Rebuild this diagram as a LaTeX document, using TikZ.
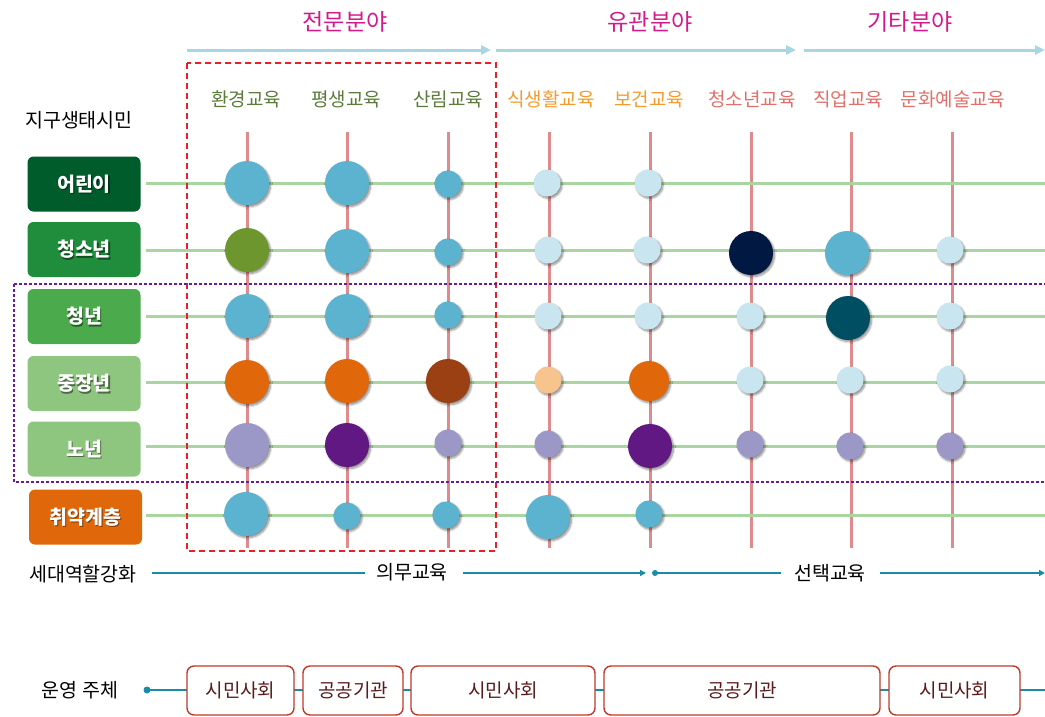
\documentclass[tikz,border=0pt]{standalone}
\usepackage{fontspec}
\setmainfont{Noto Sans CJK KR}
\usetikzlibrary{shadows.blur,arrows.meta}
\definecolor{cBlue}{HTML}{5BB3CF}
\definecolor{cLB}{HTML}{C8E5F0}
\definecolor{cOlive}{HTML}{6E962E}
\definecolor{cNavy}{HTML}{011842}
\definecolor{cTeal}{HTML}{004E62}
\definecolor{cOrg}{HTML}{E0680A}
\definecolor{cBrown}{HTML}{9A4012}
\definecolor{cLOrg}{HTML}{F8C48E}
\definecolor{cLav}{HTML}{9B97C7}
\definecolor{cPur}{HTML}{621882}
\definecolor{vline}{HTML}{DF8B8B}
\definecolor{hline}{HTML}{A9D5A0}
\definecolor{mag}{HTML}{D21A8C}
\definecolor{oliveT}{HTML}{5B7B3B}
\definecolor{orgT}{HTML}{F29B30}
\definecolor{salT}{HTML}{E0706A}
\definecolor{arrowB}{HTML}{A8D7E3}
\definecolor{tealL}{HTML}{1A8CA6}
\definecolor{g1}{HTML}{005C2A}
\definecolor{g2}{HTML}{1F8D3B}
\definecolor{g3}{HTML}{4AAA4C}
\definecolor{g4}{HTML}{8EC67F}
\definecolor{boxR}{HTML}{C0392B}
\definecolor{boxT}{HTML}{5A1A1A}
\definecolor{dashR}{HTML}{E8202A}
\definecolor{dotP}{HTML}{6A1B9A}
\tikzset{
  sh/.style={blur shadow={shadow xshift=1.6pt,shadow yshift=-1.8pt,shadow blur radius=2pt,shadow blur steps=6,shadow opacity=45}},
  dotbase/.style={circle,inner sep=0pt,draw=none,sh},
  dotL/.style={dotbase,minimum size=44pt},
  dotM/.style={dotbase,minimum size=40pt},
  dotS/.style={dotbase,minimum size=27pt},
  vl/.style={draw=vline,line width=3pt},
  hl/.style={draw=hline,line width=3pt},
  rowbox/.style={rounded corners=6pt,minimum width=113pt,minimum height=55pt,inner sep=0pt},
  rowtext/.style={text=white,font=\fontsize{19.5}{22}\selectfont\bfseries,inner sep=0pt},
  rowshadow/.style={text=black,text opacity=0.45,font=\fontsize{19.5}{22}\selectfont\bfseries,inner sep=0pt},
  field/.style={text=mag,font=\fontsize{23}{26}\selectfont},
  collab/.style={font=\fontsize{19}{22}\selectfont},
  plain/.style={font=\fontsize{19.5}{22}\selectfont,text=black},
  toparrow/.style={draw=arrowB,line width=3pt,-{Triangle[length=10pt,width=9pt]}},
  tl/.style={draw=tealL,line width=2.5pt},
  opbox/.style={draw=boxR,line width=1.4pt,fill=white,rounded corners=7pt,minimum height=49pt,inner sep=0pt,text=boxT,font=\fontsize{19}{22}\selectfont},
}
\newcommand\rowlabel[5]{%
  \node[rowbox,fill=#3] (#1) at (#2) {};
  \node[rowshadow] (#1s) at ([xshift=1.3pt,yshift=-1.3pt]#1.center) {#4};
  \node[rowtext] (#1t) at (#1.center) {#4};
}
\begin{document}
\begin{tikzpicture}[x=1pt,y=-1pt]
\useasboundingbox (0,0) rectangle (1045,716);
% top fields
\node[field] (f1) at (345,22) {전문분야};
\node[field] (f2) at (650,22) {유관분야};
\node[field] (f3) at (910,22) {기타분야};
\coordinate (a1s) at (187,50); \coordinate (a1e) at (491,50);
\coordinate (a2s) at (496,50); \coordinate (a2e) at (796,50);
\coordinate (a3s) at (804,50); \coordinate (a3e) at (1045,50);
\draw[toparrow] (a1s) -- (a1e);
\draw[toparrow] (a2s) -- (a2e);
\draw[toparrow] (a3s) -- (a3e);
% column labels
\node[collab,text=oliveT] (l1) at (246,99) {환경교육};
\node[collab,text=oliveT] (l2) at (346,99) {평생교육};
\node[collab,text=oliveT] (l3) at (448,99) {산림교육};
\node[collab,text=orgT] (l4) at (551,99) {식생활교육};
\node[collab,text=orgT] (l5) at (649,99) {보건교육};
\node[collab,text=salT] (l6) at (752,99) {청소년교육};
\node[collab,text=salT] (l7) at (848,99) {직업교육};
\node[collab,text=salT] (l8) at (953,99) {문화예술교육};
\node[plain] (eco) at (79,120) {지구생태시민};
% vertical lines
\foreach \i/\x in {1/247,2/347,3/448,4/549,5/650,6/751,7/851,8/952}{
  \coordinate (vt\i) at (\x,132);
  \coordinate (vb\i) at (\x,548);
  \draw[vl] (vt\i) -- (vb\i);
}
% horizontal lines
\foreach \j/\y in {1/183,2/250,3/316,4/382,5/446,6/515}{
  \coordinate (hs\j) at (146,\y);
  \coordinate (he\j) at (1045,\y);
  \draw[hl] (hs\j) -- (he\j);
}
% dashed and dotted frames
\draw[dashR,line width=1.5pt,dash pattern=on 6pt off 4pt] (187,63) rectangle (496,551);
\draw[dotP,line width=2.5pt,dash pattern=on 2.5pt off 2.5pt] (14,284) -- (1045,284);
\draw[dotP,line width=2.5pt,dash pattern=on 2.5pt off 2.5pt] (14,284) -- (14,482) -- (1045,482);
% row labels
\rowlabel{r1}{84,184}{g1}{어린이}{}
\rowlabel{r2}{84,249.5}{g2}{청소년}{}
\rowlabel{r3}{84,316.5}{g3}{청년}{}
\rowlabel{r4}{84,383.5}{g4}{중장년}{}
\rowlabel{r5}{84,449}{g4}{노년}{}
\rowlabel{r6}{85.5,517}{cOrg}{취약계층}{}
% circles row 1
\node[dotL,fill=cBlue] (n11) at (247,183) {};
\node[dotL,fill=cBlue] (n12) at (347,183) {};
\node[dotS,fill=cBlue] (n13) at (448,184) {};
\node[dotS,fill=cLB] (n14) at (547,183) {};
\node[dotS,fill=cLB] (n15) at (648,183) {};
% row 2
\node[dotL,fill=cOlive] (n21) at (247,250) {};
\node[dotL,fill=cBlue] (n22) at (347,251) {};
\node[dotS,fill=cBlue] (n23) at (448,252) {};
\node[dotS,fill=cLB] (n24) at (548,250) {};
\node[dotS,fill=cLB] (n25) at (647,250) {};
\node[dotL,fill=cNavy] (n26) at (751,253) {};
\node[dotL,fill=cBlue] (n27) at (847,253) {};
\node[dotS,fill=cLB] (n28) at (950,250) {};
% row 3
\node[dotL,fill=cBlue] (n31) at (247,316) {};
\node[dotL,fill=cBlue] (n32) at (347,316) {};
\node[dotS,fill=cBlue] (n33) at (448,315) {};
\node[dotS,fill=cLB] (n34) at (548,316) {};
\node[dotS,fill=cLB] (n35) at (648,316) {};
\node[dotS,fill=cLB] (n36) at (750,316) {};
\node[dotL,fill=cTeal] (n37) at (848,318) {};
\node[dotS,fill=cLB] (n38) at (950,316) {};
% row 4
\node[dotL,fill=cOrg] (n41) at (247,382) {};
\node[dotL,fill=cOrg] (n42) at (347,381) {};
\node[dotL,fill=cBrown] (n43) at (448,381) {};
\node[dotS,fill=cLOrg] (n44) at (548,380) {};
\node[dotM,fill=cOrg] (n45) at (649,381) {};
\node[dotS,fill=cLB] (n46) at (750,380) {};
\node[dotS,fill=cLB] (n47) at (850,380) {};
\node[dotS,fill=cLB] (n48) at (950,379) {};
% row 5
\node[dotL,fill=cLav] (n51) at (247,445) {};
\node[dotL,fill=cPur] (n52) at (347,445) {};
\node[dotS,fill=cLav] (n53) at (448,443) {};
\node[dotS,fill=cLav] (n54) at (548,444) {};
\node[dotL,fill=cPur] (n55) at (650,446) {};
\node[dotS,fill=cLav] (n56) at (750,444) {};
\node[dotS,fill=cLav] (n57) at (850,446) {};
\node[dotS,fill=cLav] (n58) at (950,446) {};
% row 6
\node[dotL,fill=cBlue] (n61) at (246,514) {};
\node[dotS,fill=cBlue] (n62) at (347,516) {};
\node[dotS,fill=cBlue] (n63) at (446,515) {};
\node[dotL,fill=cBlue] (n64) at (548,517) {};
\node[dotS,fill=cBlue] (n65) at (649,514) {};
% generation line
\node[plain] (gen) at (83,574) {세대역할강화};
\node[plain] (obl) at (412,572) {의무교육};
\node[plain] (sel) at (830,573) {선택교육};
\coordinate (g0) at (152,573); \coordinate (g1e) at (365,573);
\coordinate (g2s) at (463,573); \coordinate (g2e) at (646,573);
\coordinate (g3s) at (655,573); \coordinate (g3e) at (781,573);
\coordinate (g4s) at (880,573); \coordinate (g4e) at (1045,573);
\draw[tl] (g0) -- (g1e);
\draw[tl,-{Triangle[length=6pt,width=6pt]}] (g2s) -- (g2e);
\fill[tealL] (g3s) circle (3pt);
\draw[tl] (g3s) -- (g3e);
\draw[tl,-{Triangle[length=6pt,width=6pt]}] (g4s) -- (g4e);
% operator line
\node[plain] (op) at (80,690) {운영 주체};
\coordinate (o0) at (147,690); \coordinate (o1) at (1045,690);
\draw[tl] (o0) -- (o1);
\fill[tealL] (o0) circle (3.5pt);
\node[opbox,minimum width=107pt] (b1) at (240.5,690.5) {시민사회};
\node[opbox,minimum width=100pt] (b2) at (353,690.5) {공공기관};
\node[opbox,minimum width=184pt] (b3) at (503,690.5) {시민사회};
\node[opbox,minimum width=276pt] (b4) at (742,690.5) {공공기관};
\node[opbox,minimum width=131pt] (b5) at (954.5,690.5) {시민사회};
\end{tikzpicture}
\end{document}
